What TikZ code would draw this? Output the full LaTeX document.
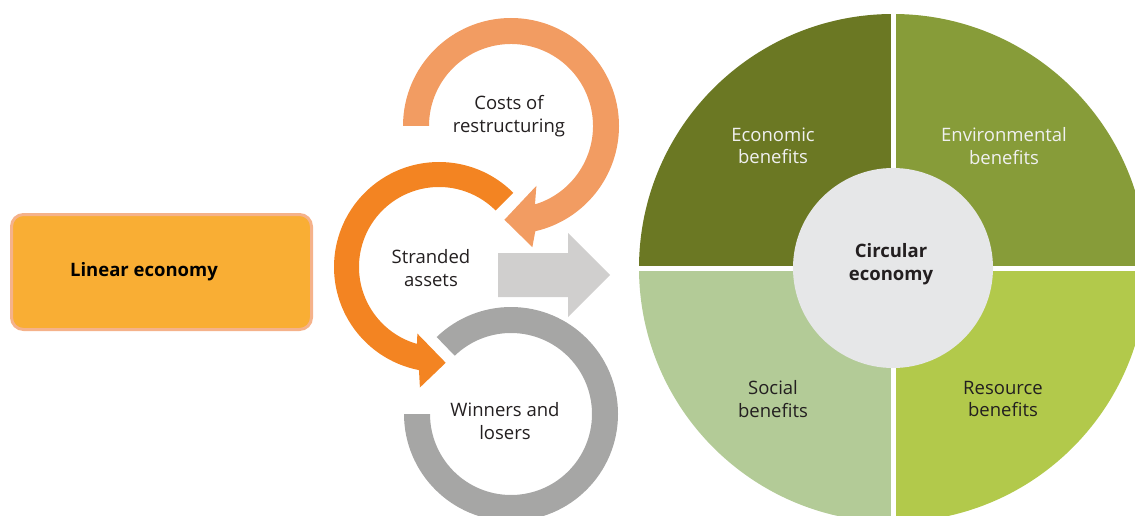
\documentclass[tikz,border=0pt]{standalone}
\usepackage{fontspec}
\setmainfont{Open Sans}

\definecolor{linearfill}{HTML}{F9AE34}
\definecolor{linearedge}{HTML}{F5B28A}
\definecolor{costsorange}{HTML}{F29C62}
\definecolor{strandorange}{HTML}{F38422}
\definecolor{winnersgrey}{HTML}{A6A6A5}
\definecolor{arrowgrey}{HTML}{D0CFCE}
\definecolor{innergrey}{HTML}{E6E7E8}
\definecolor{econgreen}{HTML}{6B7823}
\definecolor{envgreen}{HTML}{879C39}
\definecolor{socialgreen}{HTML}{B3CB97}
\definecolor{resgreen}{HTML}{B2C94B}
\definecolor{textgrey}{HTML}{231F20}

\begin{document}
\begin{tikzpicture}[
    x=1pt,
    y=1pt,
    caption/.style={
      align=center,
      font=\fontsize{18.5}{22.5}\selectfont,
      text=textgrey,
      inner sep=0pt
    },
    lightcaption/.style={
      caption,
      text=white!94!black
    },
    boldcaption/.style={
      caption,
      font=\fontsize{18.5}{22.5}\selectfont\bfseries
    }
  ]

  \useasboundingbox (0,0) rectangle (1135,515);
  \clip (0,0) rectangle (1135,515);

  % linear economy box
  \node (linear) at (161.5,243) [draw=linearedge, line width=3pt, fill=linearfill,
    rounded corners=12pt, minimum width=300, minimum height=115] {};
  \node (lineartext) at (144,243) [boldcaption, text=black] {Linear economy};

  % costs of restructuring
  \begin{scope}[shift={(511,389)}]
    \fill[costsorange] (180:108) arc[start angle=180, end angle=-77, radius=108]
      -- (-80:123) -- (-94:94) -- (-67:65) -- (-73:82)
      arc[start angle=-73, end angle=180, radius=82] -- cycle;
  \end{scope}

  % stranded assets
  \begin{scope}[shift={(439,248)}]
    \fill[strandorange] (45:105) arc[start angle=45, end angle=259, radius=105]
      -- (261:122) -- (274:96) -- (252:70) -- (254:80)
      arc[start angle=254, end angle=45, radius=80] -- cycle;
  \end{scope}

  % winners and losers
  \begin{scope}[shift={(511,101)}]
    \fill[winnersgrey] (180:107) arc[start angle=180, end angle=494, radius=107]
      -- (494:81) arc[start angle=494, end angle=180, radius=81] -- cycle;
  \end{scope}

  \node (costs) at (509,399) [caption] {Costs of\\restructuring};
  \node (stranded) at (431,247) [caption] {Stranded\\assets};
  \node (winners) at (505,94) [caption] {Winners and\\losers};

  % block arrow
  \fill[arrowgrey] (498,262) -- (568,262) -- (568,282) -- (610,240)
    -- (568,198) -- (568,218) -- (498,218) -- cycle;

  % circular economy
  \begin{scope}[shift={(893,247)}]
    \fill[envgreen] (0,0) -- (0:254) arc[start angle=0, end angle=90, radius=254] -- cycle;
    \fill[econgreen] (0,0) -- (90:254) arc[start angle=90, end angle=180, radius=254] -- cycle;
    \fill[socialgreen] (0,0) -- (180:254) arc[start angle=180, end angle=270, radius=254] -- cycle;
    \fill[resgreen] (0,0) -- (270:254) arc[start angle=270, end angle=360, radius=254] -- cycle;
    \draw[white, line width=5pt] (-256,0) -- (256,0) (0,-256) -- (0,256);
  \end{scope}

  \node (circular) at (893,247) [circle, fill=innergrey, minimum size=200] {};
  \node (circulartext) at (891,251) [boldcaption] {Circular\\economy};

  \node (economic) at (773,369) [lightcaption] {Economic\\benefits};
  \node (environmental) at (1004,369) [lightcaption] {Environmental\\benefits};
  \node (social) at (773,116) [caption] {Social\\benefits};
  \node (resource) at (1003,116) [caption] {Resource\\benefits};

\end{tikzpicture}
\end{document}
